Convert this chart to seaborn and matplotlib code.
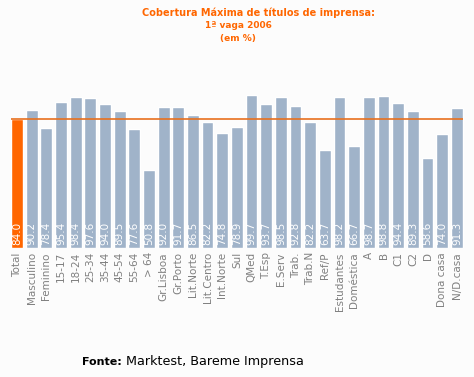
import matplotlib
matplotlib.use("Agg")
import matplotlib.pyplot as plt
import seaborn as sns
import pandas as pd

categories = ["Total", "Masculino", "Feminino", "15-17", "18-24", "25-34", "35-44",
              "45-54", "55-64", "> 64", "Gr.Lisboa", "Gr.Porto", "Lit.Norte",
              "Lit.Centro", "Int.Norte", "Sul", "QMed", "T.Esp", "E.Serv", "Trab.",
              "Trab.N", "Ref/P", "Estudantes", "Doméstica", "A", "B", "C1", "C2",
              "D", "Dona casa", "N/D.casa"]
values = [84.0, 90.2, 78.4, 95.4, 98.4, 97.6, 94.0, 89.5, 77.6, 50.8, 92.0, 91.7,
          86.5, 82.2, 74.8, 78.9, 99.7, 93.7, 98.5, 92.8, 82.2, 63.7, 98.2, 66.7,
          98.7, 98.8, 94.4, 89.3, 58.6, 74.0, 91.3]
reference_value = 84.0

sns.set_theme(style="white")
plt.rcParams['font.family'] = ['DejaVu Sans']

bg = "#fcfcfc"
fig = plt.figure(figsize=(4.74, 3.77), dpi=100, facecolor=bg)
ax = fig.add_axes([0.0204, 0.342, 0.959, 0.448])
ax.set_facecolor(bg)

df = pd.DataFrame({"cat": categories, "val": values})
palette = {c: ("#ff6600" if c == "Total" else "#a0b3c9") for c in categories}
sns.barplot(data=df, x="cat", y="val", hue="cat", palette=palette, legend=False,
            width=0.8, saturation=1, ax=ax)

ax.hlines(reference_value, -0.4, len(categories) - 0.6, color="#e8701e", lw=1.2, zorder=5)

for i, v in enumerate(values):
    ax.text(i, 1.8, f"{v:.1f}", rotation=90, ha="center", va="bottom",
            color="white", fontsize=7.5, zorder=6)

ax.set_xlim(-0.5, len(categories) - 0.5)
ax.set_ylim(0, 110)
ax.set_xlabel("")
ax.set_ylabel("")
ax.set_yticks([])
ax.tick_params(axis="x", length=0, pad=3, labelsize=7.5, labelcolor="#808080")
plt.setp(ax.get_xticklabels(), rotation=90)
for s in ax.spines.values():
    s.set_visible(False)

fig.text(258 / 474, 1 - 13 / 377, "Cobertura Máxima de títulos de imprensa:",
         ha="center", va="center", color="#ff6600", fontsize=7, fontweight="bold")
fig.text(238 / 474, 1 - 26 / 377, "1ª vaga 2006", ha="center", va="center",
         color="#ff6600", fontsize=6.5, fontweight="bold")
fig.text(238 / 474, 1 - 39 / 377, "(em %)", ha="center", va="center",
         color="#ff6600", fontsize=6.5, fontweight="bold")

fig.text(82 / 474, 1 - 362 / 377, "Fonte:", ha="left", va="center",
         color="black", fontsize=8, fontweight="bold")
fig.text(126 / 474, 1 - 362 / 377, "Marktest, Bareme Imprensa", ha="left", va="center",
         color="black", fontsize=9.2)

fig.savefig("out.png", dpi=100, facecolor=bg)
